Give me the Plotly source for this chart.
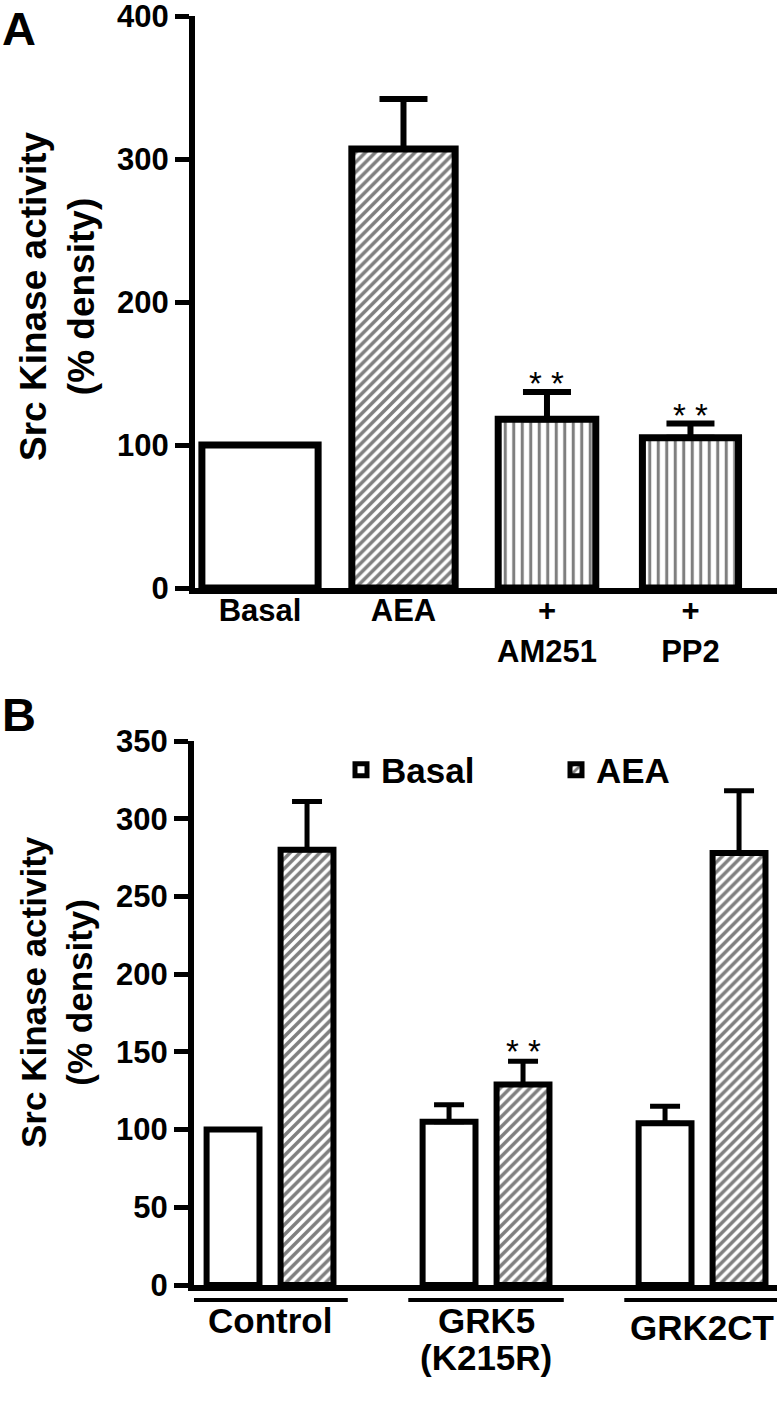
import plotly.graph_objects as go

# ---------------- data ----------------
# Panel A
a_categories = ["Basal", "AEA", "+<br>AM251", "+<br>PP2"]
a_values = [100, 307, 118, 105]
a_errors = [0, 35, 19, 10]
a_significance = ["", "", "* *", "* *"]
a_yticks = [0, 100, 200, 300, 400]

# Panel B
b_groups = ["Control", "GRK5<br>(K215R)", "GRK2CT"]
b_basal = [100, 105, 104]
b_basal_err = [0, 11, 11]
b_aea = [280, 129, 278]
b_aea_err = [31, 15, 40]
b_aea_significance = ["", "* *", ""]
b_yticks = [0, 50, 100, 150, 200, 250, 300, 350]

y_title = "Src Kinase activity<br>(% density)"

# ---------------- styling ----------------
W, H = 777, 1412
FONT = "Arial, Liberation Sans, sans-serif"


def fx(p):
    return p / W


def fy(p):
    return 1 - p / H


a_widths = [0.81, 0.72, 0.68, 0.67]
a_shapes = ["", "/", "|", "|"]
a_sizes = [8, 7, 8.5, 8.5]
a_solidity = [0.3, 0.5, 0.36, 0.36]
b_label_yshift = [0, 0, -7]

fig = go.Figure()

fig.add_trace(go.Bar(
    x=a_categories, y=a_values, width=a_widths,
    marker=dict(color="white", line=dict(color="black", width=7),
                pattern=dict(shape=a_shapes, fgcolor="black", bgcolor="white",
                             size=a_sizes, solidity=a_solidity)),
    error_y=dict(type="data", array=a_errors, arrayminus=[0] * len(a_errors),
                 symmetric=False, color="black", thickness=6, width=24),
    xaxis="x", yaxis="y", showlegend=False, hoverinfo="skip",
))

fig.add_trace(go.Bar(
    name="Basal", x=b_groups, y=b_basal,
    marker=dict(color="white", line=dict(color="black", width=6)),
    error_y=dict(type="data", array=b_basal_err, arrayminus=[0] * len(b_basal_err),
                 symmetric=False, color="black", thickness=5, width=15),
    xaxis="x2", yaxis="y2", hoverinfo="skip",
))
fig.add_trace(go.Bar(
    name="AEA", x=b_groups, y=b_aea,
    marker=dict(color="white", line=dict(color="black", width=6),
                pattern=dict(shape="/", fgcolor="black", bgcolor="white",
                             size=7, solidity=0.5)),
    error_y=dict(type="data", array=b_aea_err, arrayminus=[0] * len(b_aea_err),
                 symmetric=False, color="black", thickness=5, width=15),
    xaxis="x2", yaxis="y2", hoverinfo="skip",
))

annotations = []
# significance marks
for cat, v, e, s in zip(a_categories, a_values, a_errors, a_significance):
    if s:
        annotations.append(dict(x=cat, y=v + e, xref="x", yref="y", text=s,
                                showarrow=False, yanchor="bottom", yshift=-12,
                                font=dict(size=33, family=FONT, color="black")))
for cat, v, e, s in zip(b_groups, b_aea, b_aea_err, b_aea_significance):
    if s:
        annotations.append(dict(x=cat, y=v + e, xref="x2", yref="y2", text=s,
                                showarrow=False, yanchor="bottom", yshift=-11,
                                xshift=37,
                                font=dict(size=33, family=FONT, color="black")))

# group labels in panel B (one text per line)
for cat, dy in zip(b_groups, b_label_yshift):
    for j, line in enumerate(cat.split("<br>")):
        annotations.append(dict(x=cat, y=fy(1320 + 37 * j), xref="x2", yref="paper",
                                text=line, showarrow=False, xanchor="center",
                                yanchor="middle", yshift=dy,
                                font=dict(size=35, family=FONT, color="black",
                                          weight="bold")))

# y titles
annotations.append(dict(x=fx(58), y=fy(297), xref="paper", yref="paper", text=y_title,
                        textangle=-90, showarrow=False, xanchor="center", yanchor="middle",
                        font=dict(size=37, family=FONT, color="black", weight="bold")))
annotations.append(dict(x=fx(56), y=fy(992), xref="paper", yref="paper", text=y_title,
                        textangle=-90, showarrow=False, xanchor="center", yanchor="middle",
                        font=dict(size=35, family=FONT, color="black", weight="bold")))
# panel letters
annotations.append(dict(x=fx(0), y=fy(0), xref="paper", yref="paper", text="A",
                        showarrow=False, xanchor="left", yanchor="top",
                        font=dict(size=47, family=FONT, color="black", weight="bold")))
annotations.append(dict(x=fx(0), y=fy(686), xref="paper", yref="paper", text="B",
                        showarrow=False, xanchor="left", yanchor="top",
                        font=dict(size=47, family=FONT, color="black", weight="bold")))

# group underlines in panel B
shapes = []
for i, g in enumerate(b_groups):
    shapes.append(dict(type="line", xref="x2", yref="paper", x0=i - 0.36, x1=i + 0.36,
                       y0=fy(1300), y1=fy(1300), line=dict(color="black", width=4)))

axis_common = dict(showgrid=False, zeroline=False, showline=True, linecolor="black",
                   automargin=False, fixedrange=True)

fig.update_layout(
    width=W, height=H, margin=dict(l=0, r=0, t=0, b=0),
    plot_bgcolor="white", paper_bgcolor="white",
    font=dict(family=FONT, color="black"),
    barmode="group", bargap=0.315, bargroupgap=0.285,
    xaxis=dict(domain=[fx(195), 1], range=[-0.453, 3.603], anchor="y", linewidth=6,
               ticks="", ticklabelstandoff=-10,
               tickfont=dict(size=31, weight="bold", family=FONT),
               **axis_common),
    yaxis=dict(domain=[fy(588), fy(16)], range=[0, 400], anchor="x", linewidth=6,
               tickvals=a_yticks, ticks="outside", ticklen=14, tickwidth=5,
               ticklabeloverflow="allow",
               tickcolor="black", tickfont=dict(size=31, weight="bold", family=FONT),
               **axis_common),
    xaxis2=dict(domain=[fx(194), 1], range=[-0.352, 2.347], anchor="y2", linewidth=6,
                ticks="", showticklabels=False,
                **axis_common),
    yaxis2=dict(domain=[fy(1285), fy(741)], range=[0, 350], anchor="x2", linewidth=6,
                tickvals=b_yticks, ticks="outside", ticklen=14, tickwidth=5,
                ticklabeloverflow="allow",
                tickcolor="black", tickfont=dict(size=31, weight="bold", family=FONT),
                **axis_common),
    legend=dict(orientation="h", x=fx(341), xanchor="left", y=fy(770), yanchor="middle",
                font=dict(size=35, weight="bold", family=FONT),
                bgcolor="rgba(0,0,0,0)", entrywidth=170),
    annotations=annotations,
    shapes=shapes,
)

fig.write_html(
    "out.html",
    config={"displayModeBar": False},
    post_script="document.body.style.margin='0';document.body.style.padding='0';"
                "document.body.style.overflow='hidden';",
)
